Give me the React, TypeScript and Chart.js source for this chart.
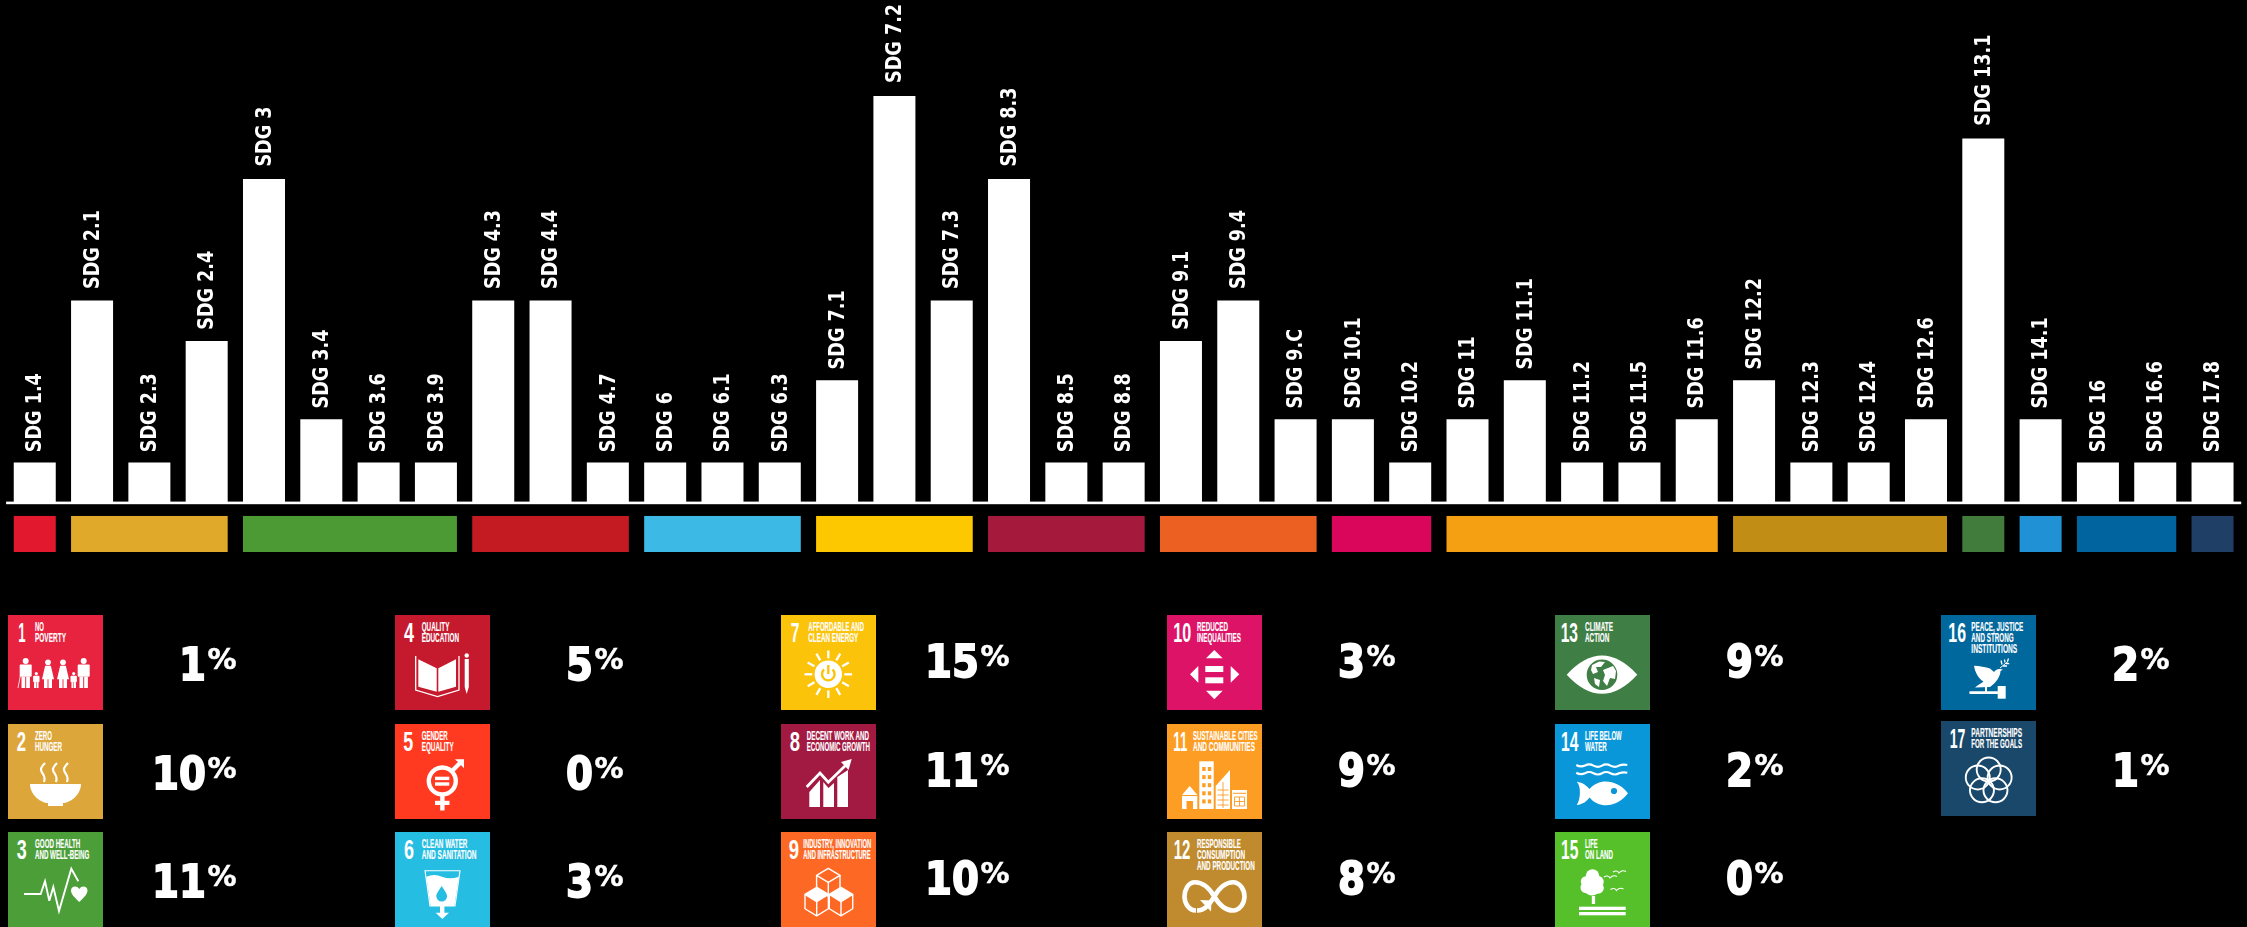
import React, { useEffect, useRef } from "react";
import { Chart, registerables } from "chart.js";

Chart.register(...registerables);

// ---------- data ----------
const targets = [
  "SDG 1.4", "SDG 2.1", "SDG 2.3", "SDG 2.4", "SDG 3", "SDG 3.4", "SDG 3.6", "SDG 3.9",
  "SDG 4.3", "SDG 4.4", "SDG 4.7", "SDG 6", "SDG 6.1", "SDG 6.3", "SDG 7.1", "SDG 7.2",
  "SDG 7.3", "SDG 8.3", "SDG 8.5", "SDG 8.8", "SDG 9.1", "SDG 9.4", "SDG 9.C", "SDG 10.1",
  "SDG 10.2", "SDG 11", "SDG 11.1", "SDG 11.2", "SDG 11.5", "SDG 11.6", "SDG 12.2",
  "SDG 12.3", "SDG 12.4", "SDG 12.6", "SDG 13.1", "SDG 14.1", "SDG 16", "SDG 16.6", "SDG 17.8",
];
const counts = [
  1, 5, 1, 4, 8, 2.07, 1, 1,
  5, 5, 1, 1, 1, 1, 3.03, 10.05,
  5, 8, 1, 1, 4, 5, 2.07, 2.07,
  1, 2.07, 3.03, 1, 1, 2.07, 3.03,
  1, 1, 2.07, 9, 2.07, 1, 1, 1,
];
// first and last target of each goal, and the colour of the strip below them
const stripFirst = [0, 1, 4, 8, 11, 14, 17, 20, 23, 25, 30, 34, 35, 36, 38];
const stripLast = [0, 3, 7, 10, 13, 16, 19, 22, 24, 29, 33, 34, 35, 37, 38];
const stripColors = [
  "#E2182F", "#E0A92A", "#4C9A33", "#C41A22", "#3CB9E5", "#FDC800", "#A51A3C", "#EC6122",
  "#DA065C", "#F59F12", "#C18D14", "#417C3C", "#2191D6", "#02649E", "#1F3F66",
];

const goalNumbers = ["1", "2", "3", "4", "5", "6", "7", "8", "9", "10", "11", "12", "13", "14", "15", "16", "17"];
const goalTitles = [
  ["NO", "POVERTY"], ["ZERO", "HUNGER"], ["GOOD HEALTH", "AND WELL-BEING"],
  ["QUALITY", "EDUCATION"], ["GENDER", "EQUALITY"], ["CLEAN WATER", "AND SANITATION"],
  ["AFFORDABLE AND", "CLEAN ENERGY"], ["DECENT WORK AND", "ECONOMIC GROWTH"], ["INDUSTRY, INNOVATION", "AND INFRASTRUCTURE"],
  ["REDUCED", "INEQUALITIES"], ["SUSTAINABLE CITIES", "AND COMMUNITIES"], ["RESPONSIBLE", "CONSUMPTION", "AND PRODUCTION"],
  ["CLIMATE", "ACTION"], ["LIFE BELOW", "WATER"], ["LIFE", "ON LAND"],
  ["PEACE, JUSTICE", "AND STRONG", "INSTITUTIONS"], ["PARTNERSHIPS", "FOR THE GOALS"],
];
const goalShares = ["1", "10", "11", "5", "0", "3", "15", "11", "10", "3", "9", "8", "9", "2", "0", "2", "1"];
const goalColors = [
  "#E8233F", "#DDA63A", "#4C9F38", "#C5192D", "#FF3A21", "#26BDE2", "#FCC30B", "#A21942", "#FD6925",
  "#DD1367", "#FD9D24", "#BF8B2E", "#3F7E44", "#0A97D9", "#56C02B", "#00689D", "#19486A",
];

// ---------- layout ----------
const PX_PER_UNIT = 40.5;
const ZERO_Y = 503;
const W = 2247;
const H = 927;
const colX = [8, 395, 781, 1167, 1555, 1941];
const rowY = [
  [615, 724, 832], [615, 724, 832], [615, 724, 832],
  [615, 724, 832], [615, 724, 832], [615, 721],
];
const baseOffset = [65, 65.5, 62.7, 62.7, 62.7, 65];
const numX = [10.3, 8.7, 8.7, 9, 8.3, 9, 9.7, 8.7, 7.7, 6.3, 6.3, 6.7, 5.7, 6, 6, 7.3, 8.7];
const numW = [7.3, 9.3, 10, 10, 10, 10, 8.7, 10.3, 10.3, 18, 14, 16.7, 17.3, 17.3, 17.3, 17.7, 15.7];
const titleX = [27, 27, 27, 26.7, 26.7, 26.7, 27.3, 25.7, 22.3, 30, 26, 30, 30, 30, 30, 30.3, 30.3];
const titleW = [
  [9, 31], [17, 27], [45.3, 54.3], [27.7, 37.3], [26, 32], [45.7, 54.7], [55.7, 50], [62.3, 63.3], [68, 67.3],
  [31, 44], [64.7, 62], [43.7, 48, 57.7], [28, 24.3], [36.7, 21.7], [12.7, 28], [52, 42.3, 46], [50.7, 50.7],
];

const stripsAndLabels = {
  id: "stripsAndLabels",
  afterDatasetsDraw(chart: any) {
    const { ctx, scales } = chart;
    const x = scales.x;
    const y = scales.y;
    const bars = chart.getDatasetMeta(0).data;
    const half = bars[0].width / 2;
    ctx.save();
    // strips under the bars
    stripFirst.forEach((first, i) => {
      const left = x.getPixelForValue(first) - half;
      const right = x.getPixelForValue(stripLast[i]) + half;
      const top = y.getPixelForValue(-0.32);
      const bottom = y.getPixelForValue(-1.21);
      ctx.fillStyle = stripColors[i];
      ctx.fillRect(left, top, right - left, bottom - top);
    });
    // axis line
    ctx.fillStyle = "#fff";
    ctx.fillRect(x.left, y.getPixelForValue(0) - 1.4, x.right - x.left, 2.6);
    // rotated labels
    ctx.font = 'bold 22px "DejaVu Sans"';
    ctx.textBaseline = "middle";
    ctx.textAlign = "left";
    bars.forEach((bar: any, i: number) => {
      const gap = 10 + 0.3 * counts[i];
      ctx.save();
      ctx.translate(bar.x + 1, bar.y - gap);
      ctx.rotate(-Math.PI / 2);
      ctx.scale(0.8, 1);
      ctx.fillText(targets[i], 0, 0);
      ctx.restore();
    });
    ctx.restore();
  },
};

// ---------- icons, in a 95 x 95 tile ----------
const Person = ({ x, top, h, dress }: any) => {
  const r = h * 0.1;
  const w = h * 0.2;
  const y0 = top + 2 * r + 0.6;
  const bottom = top + h;
  const mid = y0 + (bottom - y0) * 0.52;
  return (
    <g fill="#fff">
      <circle cx={x} cy={top + r} r={r} />
      {dress ? (
        <path d={`M${x - w * 0.5} ${y0} H${x + w * 0.5} L${x + w * 1.05} ${mid + 2} H${x - w * 1.05} Z`} />
      ) : (
        <rect x={x - w} y={y0} width={w * 2} height={mid - y0} rx={1} />
      )}
      <rect x={x - w * 0.7} y={mid} width={w * 0.62} height={bottom - mid} />
      <rect x={x + w * 0.08} y={mid} width={w * 0.62} height={bottom - mid} />
    </g>
  );
};

const Cube = ({ cx, cy, s, w, fillTop }: any) => (
  <g fill="none" stroke="#fff" strokeWidth={1.4} strokeLinejoin="round">
    <path
      d={`M${cx} ${cy - s} L${cx + w} ${cy - s / 2} L${cx} ${cy} L${cx - w} ${cy - s / 2} Z`}
      fill={fillTop ? "#fff" : "none"}
    />
    <path d={`M${cx - w} ${cy - s / 2} V${cy + s / 2} L${cx} ${cy + s} L${cx + w} ${cy + s / 2} V${cy - s / 2} M${cx} ${cy} V${cy + s}`} />
  </g>
);

const Bird = ({ x, y }: any) => (
  <path d={`M${x - 6} ${y} Q${x - 2} ${y - 2.5} ${x} ${y + 1} Q${x + 3} ${y - 2.5} ${x + 7} ${y - 0.5}`} fill="none" stroke="#fff" strokeWidth={1.1} />
);

const Icon = ({ n, bg }: any) => {
  switch (n) {
    case 0:
      return (
        <g>
          <Person x={17.7} top={43} h={30} />
          <Person x={28.3} top={57} h={16} />
          <Person x={40} top={44.5} h={28.5} dress />
          <Person x={55} top={44.5} h={28.5} dress />
          <Person x={65.7} top={57} h={16} />
          <Person x={75.7} top={43} h={30} />
          <path d="M10 73 L12.5 60" stroke="#fff" strokeWidth={0.8} />
        </g>
      );
    case 1:
      return (
        <g>
          <path d="M22 60 H73 C73 71 62 79 55 79 V82 H40 V79 C33 79 22 71 22 60 Z" fill="#fff" />
          {[35, 47, 58].map((x) => (
            <path key={x} d={`M${x + 2} 39 C${x - 3} 44 ${x - 3} 46 ${x} 50 C${x + 2} 53 ${x + 2} 55 ${x + 1} 58`} fill="none" stroke="#fff" strokeWidth={2.2} />
          ))}
        </g>
      );
    case 2:
      return (
        <g>
          <polyline points="16,62 32.7,62 37,49.3 41.3,68.7 45.3,55 51,79 63.3,36.7 70.3,49.3" fill="none" stroke="#fff" strokeWidth={1.9} />
          <path d="M71.3 70 C66 65 63 62 63 58.5 C63 54 69 53 71.3 57 C73.6 53 79.5 54 79.5 58.5 C79.5 62 76.5 65 71.3 70 Z" fill="#fff" />
        </g>
      );
    case 3:
      return (
        <g fill="#fff">
          <polygon points="23.3,44.3 41.7,53.3 41.7,76.7 23.3,71.7" />
          <polygon points="43.3,53.3 61,44.3 61,71.7 43.3,76.7" />
          <polyline points="20.7,41 20.7,75 42.5,81.5 64,75 64,41" fill="none" stroke="#fff" strokeWidth={1.3} />
          <circle cx={71.7} cy={40.5} r={2.2} />
          <polygon points="69.7,44 73.8,44 73.8,72 71.7,79 69.7,72" />
        </g>
      );
    case 4:
      return (
        <g>
          <circle cx={47.3} cy={57} r={13.5} fill="none" stroke="#fff" strokeWidth={4.4} />
          <rect x={40} y={52.7} width={14.3} height={3.4} fill="#fff" />
          <rect x={40} y={58.3} width={14.3} height={3.4} fill="#fff" />
          <rect x={45.2} y={71} width={4.4} height={15.5} fill="#fff" />
          <rect x={40} y={76.8} width={14.5} height={4.2} fill="#fff" />
          <path d="M57 47 L66 38" stroke="#fff" strokeWidth={4.2} />
          <polygon points="60,35.3 69,35.3 69,44.3 65,40" fill="#fff" />
        </g>
      );
    case 5:
      return (
        <g>
          <path d="M30 38.7 H65 L60 74 H35 Z" fill="none" stroke="#fff" strokeWidth={1.1} />
          <path d="M31.3 44.7 Q39 41.5 47 44.7 T63.8 44.7 L59.4 74 H35.6 Z" fill="#fff" />
          <path d="M46.7 54 C43.5 59 41.3 61.5 41.3 64.2 A5.4 5.4 0 0 0 52.1 64.2 C52.1 61.5 49.8 59 46.7 54 Z" fill={bg} />
          <rect x={45} y={74} width={4.4} height={7} fill="#fff" />
          <polygon points="40.7,80.7 54,80.7 47.3,87" fill="#fff" />
        </g>
      );
    case 6:
      return (
        <g>
          {Array.from({ length: 12 }, (_, k) => (
            <line
              key={k}
              x1={47.3}
              y1={43.3}
              x2={47.3}
              y2={35.5}
              stroke="#fff"
              strokeWidth={2.3}
              transform={`rotate(${k * 30} 47.3 59.3)`}
            />
          ))}
          <circle cx={47.3} cy={59.3} r={13.7} fill="#fff" />
          <path d="M43 54.5 A6.3 6.3 0 1 0 51.6 54.5" fill="none" stroke={bg} strokeWidth={2.4} />
          <line x1={47.3} y1={50} x2={47.3} y2={59} stroke={bg} strokeWidth={2.4} />
        </g>
      );
    case 7:
      return (
        <g fill="#fff">
          <polygon points="28.3,68 39,56 39,83 28.3,83" />
          <polygon points="42.3,58 47.5,64 53,59 53,83 42.3,83" />
          <polygon points="56.3,53 67,46 67,83 56.3,83" />
          <polyline points="25.7,63 39,49 47.3,58.3 66,40" fill="none" stroke="#fff" strokeWidth={2.8} />
          <polygon points="70.7,35 60,38 67.5,46" />
        </g>
      );
    case 8:
      return (
        <g>
          <Cube cx={47.3} cy={50.3} s={14} w={11.7} />
          <Cube cx={35.7} cy={69.6} s={14.3} w={11.7} fillTop />
          <Cube cx={60} cy={69.6} s={14.3} w={11.7} fillTop />
        </g>
      );
    case 9:
      return (
        <g fill="#fff">
          <polygon points="39,43.3 55.7,43.3 47.3,35" />
          <polygon points="39,75.7 55.7,75.7 47.3,84.3" />
          <polygon points="31.3,51 31.3,67.7 23,59.3" />
          <polygon points="63.7,51 63.7,67.7 72.3,59.3" />
          <rect x={38.3} y={51} width={18} height={6} />
          <rect x={38.3} y={62.3} width={18} height={6} />
        </g>
      );
    case 10:
      return (
        <g fill="#fff">
          <polygon points="22.7,62 30.5,71 15,71" />
          <path d="M15 72 H30.3 V85 H26 V77 H19.5 V85 H15 Z" />
          <rect x={32.3} y={37.3} width={14.4} height={47.7} />
          {[0, 1, 2, 3, 4].map((r) => [0, 1].map((c) => (
            <rect key={`${r}${c}`} x={35.2 + c * 5.6} y={43 + r * 8.1} width={3.4} height={4} fill={bg} />
          )))}
          <polygon points="63,46 63,85 48.7,85 48.7,62" />
          <path d="M50.5 66 H61.5 M50.5 71 H61.5 M50.5 76 H61.5 M50.5 81 H61.5 M56 58 V84" stroke={bg} strokeWidth={0.9} />
          <rect x={65} y={66} width={15} height={19} />
          <rect x={66} y={68.8} width={13} height={1} fill={bg} />
          <path d="M67.5 73 H77.5 V82 H67.5 Z M67.5 77.5 H77.5 M72.5 73 V82" stroke={bg} strokeWidth={0.9} fill="none" />
        </g>
      );
    case 11:
      return (
        <g>
          <path
            d="M47.3 64.5 C41 54 34 50.3 28 50.3 C21 50.3 17.5 58 17.5 64.5 C17.5 71 21.5 78.5 29 78.5 M47.3 64.5 C53.5 75 60.5 78.5 66 78.5 C73 78.5 77.5 71 77.5 64.5 C77.5 58 73 50.3 66 50.3 C60.5 50.3 53.5 54 47.3 64.5 C44 70 39 78.5 30 78.5"
            fill="none"
            stroke="#fff"
            strokeWidth={4.6}
          />
          <polygon points="33,68 44.5,68.5 44,79.5" fill="#fff" />
        </g>
      );
    case 12:
      return (
        <g>
          <path d="M11.7 59.7 Q47 21.5 82.3 59.7 Q47 98 11.7 59.7 Z" fill="#fff" />
          <circle cx={47} cy={59.7} r={15.3} fill={bg} />
          <path d="M37 50 L44 46.5 L50 47 L46 52 L41 52 L43 57 L38 59 L36 55 Z M48 55 L58 51 L61 56 L60 64 L55 63 L52 71 L48 66 L50 60 Z M39 63 L45 65 L44 72 L40 69 Z" fill="#fff" />
        </g>
      );
    case 13:
      return (
        <g>
          {[41, 48.7].map((y) => (
            <path key={y} d={`M21.3 ${y} Q25.5 ${y + 2.6} 30 ${y + 0.6} Q34 ${y - 2} 38.5 ${y + 0.6} Q43 ${y + 3} 47 ${y + 0.6} Q51 ${y - 2} 55.5 ${y + 0.6} Q60 ${y + 3} 64 ${y + 0.6} Q68 ${y - 1} 72.3 ${y}`} fill="none" stroke="#fff" strokeWidth={2.2} />
          ))}
          <path d="M21.7 57.7 C28 58.5 32 62 34.5 65 C44 54 62 55 73 69.3 C62 84 44 85 34.5 73.5 C32 77 28 80.5 21.7 81 C25.5 76 26.5 62 21.7 57.7 Z" fill="#fff" />
          <circle cx={59} cy={67} r={3.1} fill={bg} />
        </g>
      );
    case 14:
      return (
        <g fill="#fff">
          <circle cx={37.5} cy={44} r={6.8} />
          <circle cx={31} cy={49.5} r={5.2} />
          <circle cx={42.5} cy={50} r={6.2} />
          <circle cx={37} cy={55.5} r={8} />
          <circle cx={31} cy={55.5} r={5.5} />
          <circle cx={43} cy={56} r={5.8} />
          <rect x={36.8} y={64} width={3.3} height={8} />
          <rect x={24} y={74.7} width={46.7} height={3.3} />
          <rect x={24} y={80} width={46.7} height={3.3} />
          <Bird x={55} y={45} />
          <Bird x={64} y={40} />
          <Bird x={61.5} y={57.5} />
        </g>
      );
    case 15:
      return (
        <g fill="#fff">
          <path d="M33 50.7 C38 51 45 52 49 53.5 L53 57 C54 55 57 53.5 59 54 L62 54.5 L59.5 56 C59.5 61 55 68 49 72 L34 72.5 C37 70 40 68.5 42.5 66.5 C37 63 34 57 33 50.7 Z" />
          <rect x={44} y={71} width={2} height={6} />
          <path d="M59 53 L67 46.5" stroke="#fff" strokeWidth={1} />
          <path d="M61 49.5 l-1 -4 M64 47.5 l-0.5 -3 M62 51 l4 0 M65 48.5 l3.2 0.2 M66.5 46.5 l1 -3" stroke="#fff" strokeWidth={1.3} />
          <rect x={28.3} y={76.3} width={29} height={2.8} rx={1} />
          <rect x={56.7} y={71} width={8} height={12.7} />
        </g>
      );
    default:
      return (
        <g fill="none" stroke="#fff" strokeWidth={1.9}>
          {[0, 72, 144, 216, 288].map((a) => {
            const t = (a * Math.PI) / 180;
            return <circle key={a} cx={47.7 + 11.5 * Math.sin(t)} cy={60 - 11.5 * Math.cos(t)} r={12} />;
          })}
        </g>
      );
  }
};

const Tile = ({ i, x, y }: any) => (
  <g transform={`translate(${x} ${y})`}>
    <rect width={95} height={95} fill={goalColors[i]} />
    <text
      x={numX[i]}
      y={27.3}
      textLength={numW[i]}
      lengthAdjust="spacingAndGlyphs"
      fontFamily='"Liberation Sans Narrow", "Liberation Sans"'
      fontWeight={700}
      fontSize={27}
      fill="#fff"
    >
      {goalNumbers[i]}
    </text>
    {goalTitles[i].map((line, k) => (
      <text
        key={k}
        x={titleX[i]}
        y={15.7 + k * 11.3}
        textLength={titleW[i][k]}
        lengthAdjust="spacingAndGlyphs"
        fontFamily='"Liberation Sans Narrow", "Liberation Sans"'
        fontWeight={700}
        fontSize={12}
        fill="#fff"
        stroke="#fff"
        strokeWidth={0.15}
      >
        {line}
      </text>
    ))}
    <Icon n={i} bg={goalColors[i]} />
  </g>
);

const Share = ({ value, x, y }: any) => (
  <g fontFamily='"DejaVu Sans"' fontWeight={700} fill="#fff" stroke="#fff">
    <text transform={`translate(${x + 198} ${y - 0.5}) scale(0.88 1)`} fontSize={44} textAnchor="end" strokeWidth={1.8}>
      {value}
    </text>
    <text x={x + 228.5} y={y - 11.5} fontSize={29} textAnchor="end" strokeWidth={0.5}>
      %
    </text>
  </g>
);

export default function App() {
  const ref = useRef<HTMLCanvasElement>(null);

  useEffect(() => {
    const chart = new Chart(ref.current as HTMLCanvasElement, {
      type: "bar",
      data: {
        labels: targets,
        datasets: [
          {
            data: counts,
            backgroundColor: "#fff",
            borderWidth: 0,
            categoryPercentage: 1,
            barPercentage: 0.733,
          },
        ],
      },
      options: {
        responsive: false,
        animation: false,
        devicePixelRatio: 1,
        layout: { padding: { left: 6.1, right: 5.8, top: 0, bottom: 0 } },
        plugins: { legend: { display: false }, tooltip: { enabled: false } },
        scales: {
          x: { display: false },
          y: {
            display: false,
            min: -(H - ZERO_Y) / PX_PER_UNIT,
            max: ZERO_Y / PX_PER_UNIT,
          },
        },
      },
      plugins: [stripsAndLabels],
    });
    return () => chart.destroy();
  }, []);

  let goal = 0;
  const tiles: any[] = [];
  rowY.forEach((col, c) =>
    col.forEach((y) => {
      tiles.push({ i: goal, x: colX[c], y, base: y + baseOffset[c] });
      goal += 1;
    })
  );

  return (
    <div style={{ position: "absolute", left: 0, top: 0, width: W, height: H, background: "#000", overflow: "hidden" }}>
      <canvas ref={ref} width={W} height={H} style={{ display: "block", position: "absolute", left: 0, top: 0 }} />
      <svg width={W} height={H} viewBox={`0 0 ${W} ${H}`} style={{ position: "absolute", left: 0, top: 0 }}>
        {tiles.map((t) => (
          <g key={t.i}>
            <Tile i={t.i} x={t.x} y={t.y} />
            <Share value={goalShares[t.i]} x={t.x} y={t.base} />
          </g>
        ))}
      </svg>
    </div>
  );
}
